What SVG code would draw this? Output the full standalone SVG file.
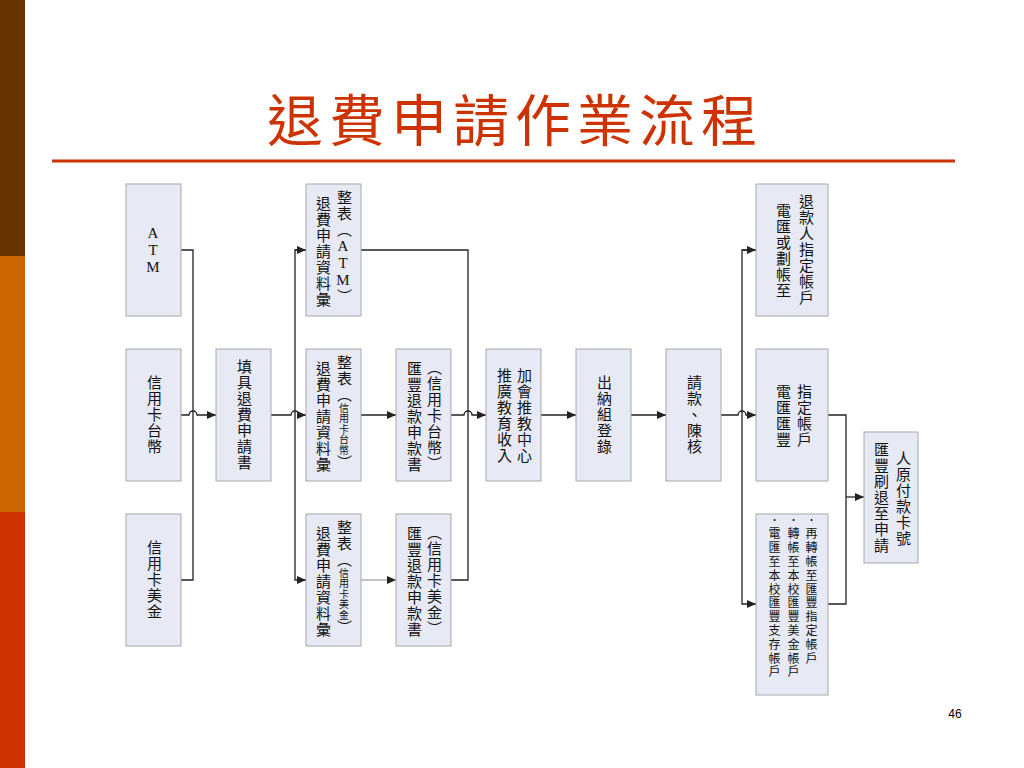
<svg xmlns="http://www.w3.org/2000/svg" width="1024" height="768" viewBox="0 0 1024 768">
<defs>
<marker id="arr" markerUnits="userSpaceOnUse" markerWidth="9" markerHeight="8" refX="9" refY="4" orient="auto">
<path d="M0,0 L9,4 L0,8 Z" fill="#222"/>
</marker>
<style>
.box{fill:#E7EAF5;stroke:#A8A8A8;stroke-width:1}
.ln{fill:none;stroke:#222;stroke-width:1.3}
.lg{fill:none;stroke:#888;stroke-width:1.1}
.v{writing-mode:vertical-rl;font-family:"Liberation Serif","Noto Sans CJK TC",serif;font-size:15px;letter-spacing:1px;text-anchor:middle;fill:#111}
.s{font-size:10px;letter-spacing:0.5px}
.up{text-orientation:upright}
.b{font-size:12px;letter-spacing:1.8px;text-anchor:start}
</style>
</defs>
<rect x="0" y="0" width="1024" height="768" fill="#fff"/>
<rect x="0" y="0" width="25" height="256" fill="#663300"/>
<rect x="0" y="256" width="25" height="256" fill="#CC6600"/>
<rect x="0" y="512" width="25" height="256" fill="#CC3300"/>
<text x="267" y="141" font-family="Noto Sans CJK TC, sans-serif" font-size="56" letter-spacing="6" fill="#CC3300">退費申請作業流程</text>
<line x1="52" y1="161" x2="955" y2="161" stroke="#CC3300" stroke-width="3"/>
<text x="955" y="718" font-family="Liberation Sans, sans-serif" font-size="12" text-anchor="middle" fill="#000">46</text>

<g id="connectors">
<path class="ln" d="M181,250 H193 V580 H181"/>
<path class="ln" d="M181,415 H189 A4,4 0 0 1 197,415 H216" marker-end="url(#arr)"/>
<path class="ln" d="M271,415 H291 A4,4 0 0 1 299,415 H306" marker-end="url(#arr)"/>
<path class="ln" d="M306,250 H295 V580 H306" marker-end="url(#arr)"/>
<path class="ln" d="M295,250 H306" marker-end="url(#arr)"/>
<path class="ln" d="M361,415 H396" marker-end="url(#arr)"/>
<path class="lg" d="M361,580 H396" marker-end="url(#arr)"/>
<path class="ln" d="M361,250 H468 V580 H451"/>
<path class="ln" d="M451,415 H464 A4,4 0 0 1 472,415 H486" marker-end="url(#arr)"/>
<path class="ln" d="M541,415 H576" marker-end="url(#arr)"/>
<path class="ln" d="M631,415 H666" marker-end="url(#arr)"/>
<path class="ln" d="M721,415 H738 A4,4 0 0 1 746,415 H756" marker-end="url(#arr)"/>
<path class="ln" d="M756,250 H742 V604 H756" marker-end="url(#arr)"/>
<path class="ln" d="M742,250 H756" marker-end="url(#arr)"/>
<path class="ln" d="M828,415 H846 V604 H828"/>
<path class="ln" d="M846,497 H864" marker-end="url(#arr)"/>
</g>

<g id="n_atm"><rect class="box" x="126" y="184" width="55" height="132"/><text class="v up" x="153" y="250" font-size="16">ATM</text></g>
<g id="n_twd"><rect class="box" x="126" y="349" width="55" height="132"/><text class="v" x="153" y="415">信用卡台幣</text></g>
<g id="n_usd"><rect class="box" x="126" y="514" width="55" height="132"/><text class="v" x="153" y="580">信用卡美金</text></g>
<g id="n_fill"><rect class="box" x="216" y="349" width="55" height="132"/><text class="v" x="243" y="415">填具退費申請書</text></g>

<g id="n_sum_atm"><rect class="box" x="306" y="184" width="55" height="132"/>
<text class="v" x="343" y="247">整表（<tspan class="up">ATM</tspan>）</text>
<text class="v" x="322" y="252">退費申請資料彙</text></g>
<g id="n_sum_twd"><rect class="box" x="306" y="349" width="55" height="132"/>
<text class="v" x="343" y="413">整表（<tspan class="s">信用卡台幣</tspan>）</text>
<text class="v" x="322" y="417">退費申請資料彙</text></g>
<g id="n_sum_usd"><rect class="box" x="306" y="514" width="55" height="132"/>
<text class="v" x="343" y="578">整表（<tspan class="s">信用卡美金</tspan>）</text>
<text class="v" x="322" y="582">退費申請資料彙</text></g>

<g id="n_hsbc_twd"><rect class="box" x="396" y="349" width="55" height="132"/>
<text class="v" x="433" y="416">（信用卡台幣）</text>
<text class="v" x="413" y="417">匯豐退款申款書</text></g>
<g id="n_hsbc_usd"><rect class="box" x="396" y="514" width="55" height="132"/>
<text class="v" x="433" y="581">（信用卡美金）</text>
<text class="v" x="413" y="582">匯豐退款申款書</text></g>

<g id="n_income"><rect class="box" x="486" y="349" width="55" height="132"/>
<text class="v" x="523" y="416">加會推教中心</text>
<text class="v" x="503" y="416">推廣教育收入</text></g>
<g id="n_cashier"><rect class="box" x="576" y="349" width="55" height="132"/><text class="v" x="603" y="415">出納組登錄</text></g>
<g id="n_request"><rect class="box" x="666" y="349" width="55" height="132"/><text class="v" x="693" y="415">請款、陳核</text></g>

<g id="n_acct"><rect class="box" x="756" y="184" width="72" height="132"/>
<text class="v" x="805" y="250">退款人指定帳戶</text>
<text class="v" x="782" y="251">電匯或劃帳至</text></g>
<g id="n_wire"><rect class="box" x="756" y="349" width="72" height="132"/>
<text class="v" x="803" y="416">指定帳戶</text>
<text class="v" x="782" y="416">電匯匯豐</text></g>
<g id="n_transfer"><rect class="box" x="756" y="514" width="72" height="181"/>
<text class="v b" x="810" y="514">．再轉帳至匯豐指定帳戶</text>
<text class="v b" x="792" y="514">．轉帳至本校匯豐美金帳戶</text>
<text class="v b" x="773" y="514">．電匯至本校匯豐支存帳戶</text></g>
<g id="n_card"><rect class="box" x="864" y="432" width="54" height="131"/>
<text class="v" x="902" y="499">人原付款卡號</text>
<text class="v" x="880" y="498">匯豐刷退至申請</text></g>
</svg>
